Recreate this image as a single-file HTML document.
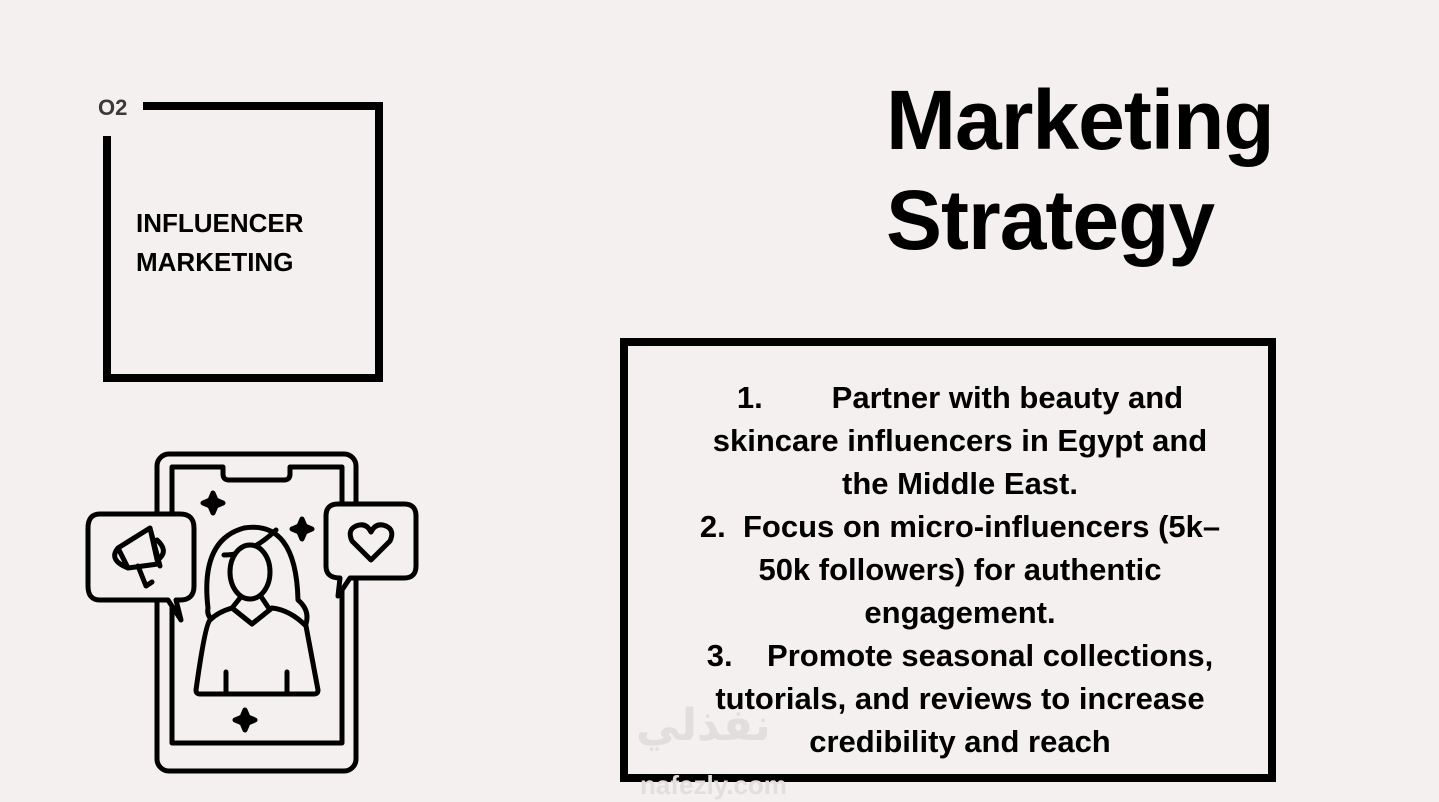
<!DOCTYPE html>
<html><head><meta charset="utf-8"><style>
html,body{margin:0;padding:0}
body{width:1439px;height:802px;background:#f4f0ef;position:relative;overflow:hidden;font-family:"Liberation Sans",sans-serif;color:#000}
.abs{position:absolute}
.list{left:640px;top:376px;width:640px;text-align:center;font-weight:bold;font-size:31px;line-height:43px}
</style></head><body>
<div class="abs" style="left:143px;top:102px;width:240px;height:8px;background:#000"></div>
<div class="abs" style="left:375px;top:102px;width:8px;height:280px;background:#000"></div>
<div class="abs" style="left:103px;top:374px;width:280px;height:8px;background:#000"></div>
<div class="abs" style="left:103px;top:136px;width:8px;height:246px;background:#000"></div>
<div class="abs" style="left:98px;top:95px;font-size:22px;font-weight:bold;color:#3a3a3a">O2</div>
<div class="abs" style="left:136px;top:204px;font-size:26px;font-weight:bold;line-height:39px">INFLUENCER<br>MARKETING</div>
<div class="abs" style="left:886px;top:70px;font-size:84px;font-weight:bold;line-height:100px;letter-spacing:-1px">Marketing<br>Strategy</div>
<div class="abs" style="left:620px;top:338px;width:640px;height:428px;border:8px solid #000"></div>
<div class="abs list">1.&nbsp;&nbsp;&nbsp;&nbsp;&nbsp;&nbsp;&nbsp;&nbsp;Partner with beauty and<br>skincare influencers in Egypt and<br>the Middle East.<br>2.&nbsp; Focus on micro-influencers (5k–<br>50k followers) for authentic<br>engagement.<br>3.&nbsp;&nbsp;&nbsp; Promote seasonal collections,<br>tutorials, and reviews to increase<br>credibility and reach</div>
<div class="abs" style="left:636px;top:700px;font-size:44px;font-weight:bold;color:#e2dedd;font-family:'Liberation Sans','DejaVu Sans',sans-serif">نفذلي</div>
<div class="abs" style="left:640px;top:770px;font-size:26px;font-weight:bold;color:#e2dedd">nafezly.com</div>
<svg class="abs" style="left:0;top:0" width="1439" height="802" fill="none" stroke="#000" stroke-width="5" stroke-linecap="round" stroke-linejoin="round">
<rect x="157" y="454" width="199" height="317" rx="12"/>
<path d="M172 467 H223 V474 Q223 480 229 480 H284 Q290 480 290 474 V467 H342 V743 H172 Z"/>
<path d="M213 493 l3 7 7 3 -7 3 -3 7 -3 -7 -7 -3 7 -3z" fill="#000"/>
<path d="M302 519 l3 7 7 3 -7 3 -3 7 -3 -7 -7 -3 7 -3z" fill="#000"/>
<path d="M245 710 l3 7 7 3 -7 3 -3 7 -3 -7 -7 -3 7 -3z" fill="#000"/>
<path d="M100 514 H180 Q194 514 194 528 V586 Q194 600 180 600 H176 L181 620 L168 600 H100 Q88 600 88 586 V528 Q88 514 100 514Z" fill="#f4f0ef"/>
<path d="M118 548 L150 528 L158 564 L128 568 Z M118 548 Q108 560 128 568 M150 528 L160 566 M138 566 L146 586 L152 582 M157 540 Q168 550 160 558"/>
<path d="M338 504 H404 Q416 504 416 516 V566 Q416 578 404 578 H350 L338 596 L340 578 Q326 578 326 566 V516 Q326 504 338 504Z" fill="#f4f0ef"/>
<path d="M371 560 L352 541 Q347 530 356 526 Q366 522 371 532 Q376 522 386 526 Q395 530 390 541 Z"/>
<path d="M208 608 Q200 540 244 528 Q296 520 298 600 Q310 610 306 624 L236 624 Q205 625 208 608Z" fill="#f4f0ef"/>
<path d="M224 555 Q250 555 276 530"/>
<ellipse cx="250" cy="572" rx="20" ry="27" fill="#f4f0ef"/>
<path d="M240 598 L232 608 L252 624 L270 610 L262 598"/>
<path d="M210 620 Q205 625 196 690 Q196 694 200 694 H314 Q318 694 318 690 L306 626 Q290 610 272 608 L252 624 L232 608 Q218 612 210 620Z" fill="#f4f0ef"/>
<path d="M226 672 V694 M287 672 V694"/>
</svg>
</body></html>
